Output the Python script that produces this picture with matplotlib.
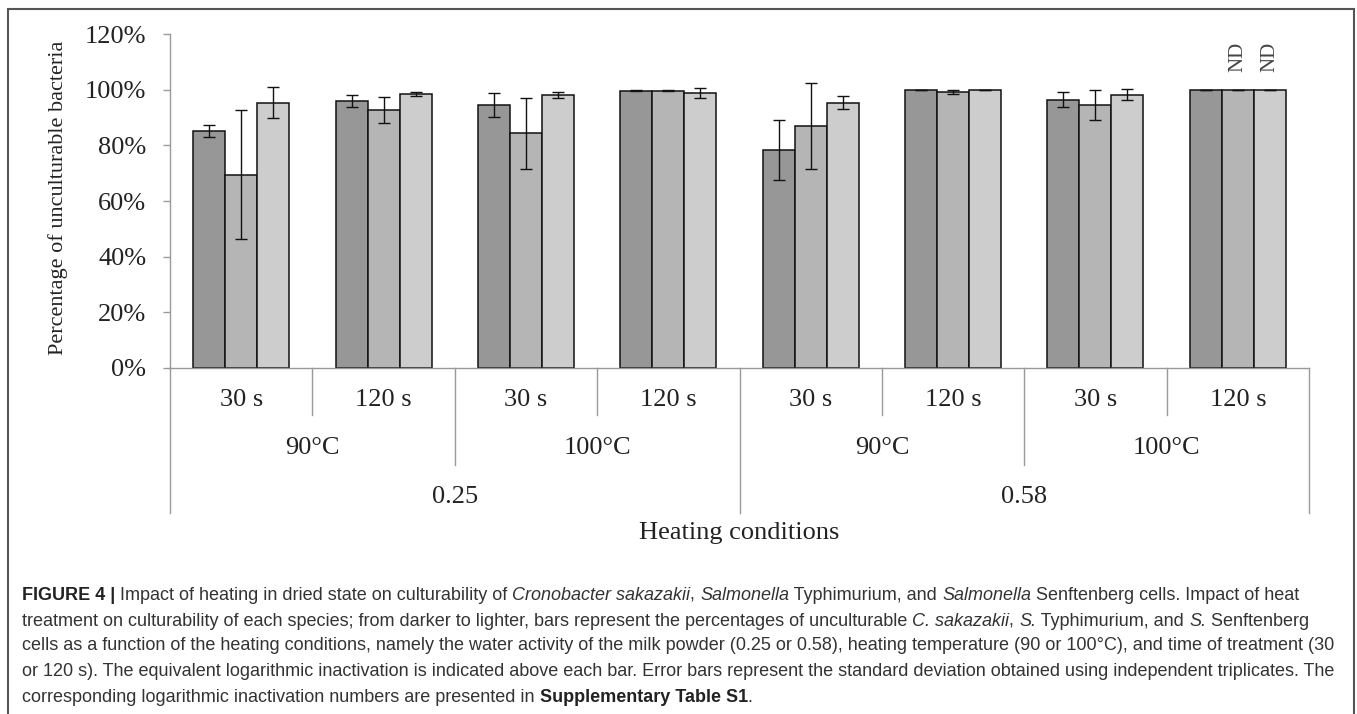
import matplotlib
matplotlib.use("Agg")
import matplotlib.pyplot as plt
import matplotlib.transforms as mtransforms
from matplotlib.patches import Rectangle

# data (percent of unculturable bacteria)
times = ["30 s", "120 s", "30 s", "120 s", "30 s", "120 s", "30 s", "120 s"]
temps = ["90°C", "100°C", "90°C", "100°C"]
aws = ["0.25", "0.58"]
c_sakazakii = [85.2, 96.0, 94.6, 99.7, 78.2, 99.8, 96.5, 99.8]
c_sakazakii_err = [2.1, 2.1, 4.2, 0.2, 10.8, 0.0, 2.6, 0.0]
s_typhimurium = [69.5, 92.7, 84.3, 99.7, 87.1, 99.3, 94.6, 99.8]
s_typhimurium_err = [23.2, 4.8, 12.8, 0.2, 15.5, 0.7, 5.3, 0.0]
s_senftenberg = [95.4, 98.6, 98.2, 98.8, 95.4, 99.8, 98.2, 99.8]
s_senftenberg_err = [5.5, 0.7, 1.2, 1.9, 2.3, 0.0, 2.0, 0.0]
nd_group = 7
nd_series = [1, 2]

plt.rcParams['font.family'] = ['Liberation Serif', 'DejaVu Serif']

W, H = 1357, 714
fig = plt.figure(figsize=(W / 100, H / 100), dpi=100)
ax = fig.add_axes([170 / W, 1 - 367.7 / H, 1139 / W, 333.4 / H])

series = [c_sakazakii, s_typhimurium, s_senftenberg]
errs = [c_sakazakii_err, s_typhimurium_err, s_senftenberg_err]
colors = ["#979797", "#b5b5b5", "#cdcdcd"]
bw = 0.225
xs = list(range(len(times)))
for k in range(3):
    pos = [x + (k - 1) * bw for x in xs]
    ax.bar(pos, series[k], width=bw, color=colors[k], edgecolor="#111111",
           linewidth=1.1, zorder=2)
    ax.errorbar(pos, series[k], yerr=errs[k], fmt="none", ecolor="#111111",
                elinewidth=1.0, capsize=4.5, capthick=1.0, zorder=3)

for k in nd_series:
    ax.text(nd_group + (k - 1) * bw, 112, "ND", rotation=90, ha="center",
            va="center", fontsize=15, color="#444444")

ax.set_xlim(-0.5, 7.5)
ax.set_ylim(0, 120)
ax.set_yticks(range(0, 121, 20))
ax.set_yticklabels([f"{v}%" for v in range(0, 121, 20)])
ax.tick_params(axis="y", direction="out", length=5, width=1, color="#999999",
               pad=12, labelsize=19, labelcolor="#222222")
ax.set_xticks([])
for s in ["top", "right"]:
    ax.spines[s].set_visible(False)
ax.spines["left"].set_color("#999999")
ax.spines["bottom"].set_color("#999999")
ax.spines["left"].set_linewidth(1)
ax.spines["bottom"].set_linewidth(1)

trans = mtransforms.blended_transform_factory(ax.transData, ax.transAxes)
sep_kw = dict(color="#999999", linewidth=1, clip_on=False, transform=trans)

# time row
for i in range(len(times)):
    ax.text(i, -0.097, times[i], ha="center", va="center", fontsize=19,
            color="#222222", transform=trans)
for i in [0.5, 2.5, 4.5, 6.5]:
    ax.plot([i, i], [0, -0.142], **sep_kw)
# temperature row
for j in range(len(temps)):
    ax.text(2 * j + 0.5, -0.241, temps[j], ha="center", va="center",
            fontsize=19, color="#222222", transform=trans)
for i in [1.5, 5.5]:
    ax.plot([i, i], [0, -0.292], **sep_kw)
# water activity row
for j in range(len(aws)):
    ax.text(4 * j + 1.5, -0.388, aws[j], ha="center", va="center",
            fontsize=19, color="#222222", transform=trans)
for i in [-0.5, 3.5, 7.5]:
    ax.plot([i, i], [0, -0.436], **sep_kw)

ax.text(0.5, -0.496, "Heating conditions", ha="center", va="center",
        fontsize=19, color="#222222", transform=ax.transAxes)
fig.text(58 / W, 1 - 198 / H, "Percentage of unculturable bacteria",
         rotation=90, ha="center", va="center", fontsize=16, color="#222222")

# frame
fig.patches.append(Rectangle((8 / W, -0.1), (1354 - 8) / W, 1.1 - 9 / H,
                             transform=fig.transFigure, fill=False,
                             edgecolor="#555555", linewidth=1.5))

# caption
cap_font = ['Liberation Sans', 'DejaVu Sans']
cap_size = 13
cap_color = "#333333"
R, I, B = "normal", "italic", "bold"
lines = [
    [("FIGURE 4 | ", B), ("Impact of heating in dried state on culturability of ", R),
     ("Cronobacter sakazakii", I), (", ", R), ("Salmonella", I), (" Typhimurium, and ", R),
     ("Salmonella", I), (" Senftenberg cells. Impact of heat", R)],
    [("treatment on culturability of each species; from darker to lighter, bars represent the percentages of unculturable ", R),
     ("C. sakazakii", I), (", ", R), ("S.", I), (" Typhimurium, and ", R), ("S.", I),
     (" Senftenberg", R)],
    [("cells as a function of the heating conditions, namely the water activity of the milk powder (0.25 or 0.58), heating temperature (90 or 100°C), and time of treatment (30", R)],
    [("or 120 s). The equivalent logarithmic inactivation is indicated above each bar. Error bars represent the standard deviation obtained using independent triplicates. The", R)],
    [("corresponding logarithmic inactivation numbers are presented in ", R),
     ("Supplementary Table S1", B), (".", R)],
]
line_y = [595, 621, 646, 672, 697]
renderer = fig.canvas.get_renderer()


def seg_width(txt, style):
    kw = dict(fontsize=cap_size, family=cap_font)
    if style == I:
        kw["style"] = "italic"
    if style == B:
        kw["weight"] = "bold"
    t1 = fig.text(0, 0, "|" + txt + "|", **kw)
    t2 = fig.text(0, 0, "||", **kw)
    w = t1.get_window_extent(renderer).width - t2.get_window_extent(renderer).width
    t1.remove()
    t2.remove()
    return w, kw


for parts, yy in zip(lines, line_y):
    x = 22.0
    for txt, style in parts:
        w, kw = seg_width(txt, style)
        fig.text(x / W, 1 - yy / H, txt, va="center", ha="left",
                 color=("#222222" if style == B else cap_color), **kw)
        x += w

fig.savefig("out.png", dpi=100)
